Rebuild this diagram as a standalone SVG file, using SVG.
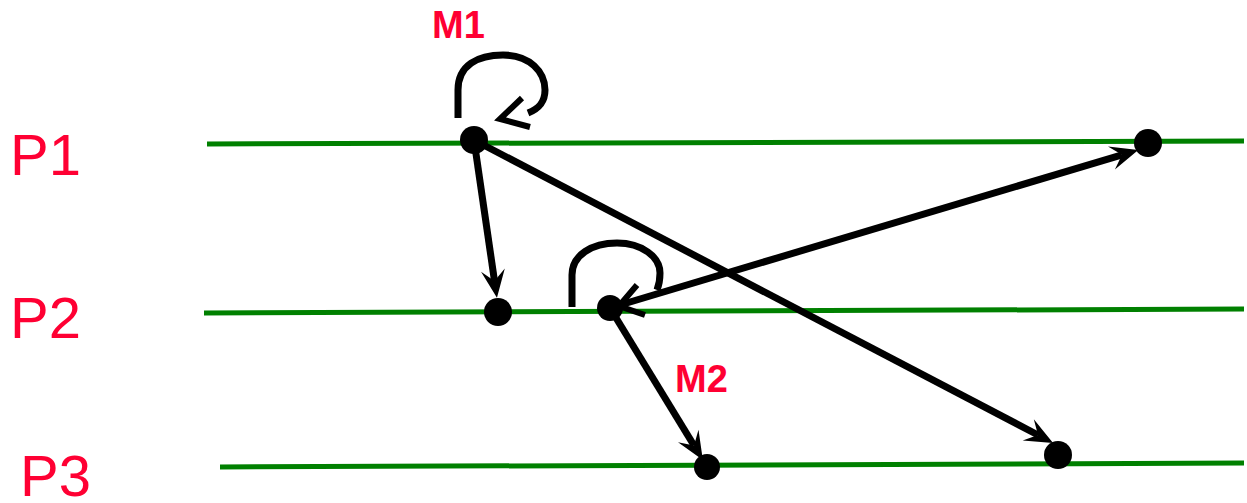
<svg xmlns="http://www.w3.org/2000/svg" width="1247" height="503" viewBox="0 0 1247 503">
<defs>
<style>
.lane{stroke:#008000;stroke-width:5;fill:none}
.plabel{font-family:"Liberation Sans",Arial,sans-serif;font-size:58px;fill:#ff0033}
.mlabel{font-family:"Liberation Sans",Arial,sans-serif;font-size:38px;font-weight:bold;fill:#ff0033}
.conn{stroke:#000;stroke-width:7;fill:none}
.chev{stroke:#000;stroke-width:6;fill:none;stroke-linecap:butt}
.dot{fill:#000}
</style>
<marker id="stealth" markerUnits="userSpaceOnUse" markerWidth="34" markerHeight="30" viewBox="-12 -15 34 30" refX="0" refY="0" orient="auto">
<path d="M17,0 L-11,-12 L0,0 L-11,12 Z" fill="#000"/>
</marker>
</defs>
<rect width="1247" height="503" fill="#fff"/>
<g id="lanes">
<line class="lane" x1="207" y1="144" x2="1244" y2="141"/>
<line class="lane" x1="204" y1="313" x2="1244" y2="309"/>
<line class="lane" x1="220" y1="467" x2="1244" y2="463"/>
</g>
<g id="labels">
<text class="plabel" x="10" y="175">P1</text>
<text class="plabel" x="10" y="338">P2</text>
<text class="plabel" x="20" y="496">P3</text>
<text class="mlabel" x="432" y="38">M1</text>
<text class="mlabel" x="675" y="392">M2</text>
</g>
<g id="connectors">
<line class="conn" x1="474" y1="140" x2="494.5" y2="281" marker-end="url(#stealth)"/>
<line class="conn" x1="474" y1="140" x2="1038" y2="435" marker-end="url(#stealth)"/>
<line class="conn" x1="610" y1="308" x2="1122" y2="154.8" marker-end="url(#stealth)"/>
<line class="conn" x1="610" y1="308" x2="694" y2="445.5" marker-end="url(#stealth)"/>
<path class="conn" d="M458,118 L458,90 C458,65 478,55 503,55 C530,55 545,72 545,90 C545,103 538,109 528,113"/>
<polyline class="chev" points="522,98 500,119 530,127"/>
<path class="conn" d="M572,307 L572,275 C572,255 592,243 617,243 C642,243 660,257 660,273 C660,280 659,285 657,290"/>
<polyline class="chev" points="637,285 619,306 645,315"/>
</g>
<g id="nodes">
<circle id="n-p1a" class="dot" cx="474" cy="140" r="14"/>
<circle id="n-p1b" class="dot" cx="1148" cy="143" r="14"/>
<circle id="n-p2a" class="dot" cx="498" cy="312" r="14"/>
<circle id="n-p2b" class="dot" cx="610" cy="308" r="13"/>
<circle id="n-p3a" class="dot" cx="707" cy="467" r="13"/>
<circle id="n-p3b" class="dot" cx="1058" cy="455" r="14"/>
</g>
</svg>
